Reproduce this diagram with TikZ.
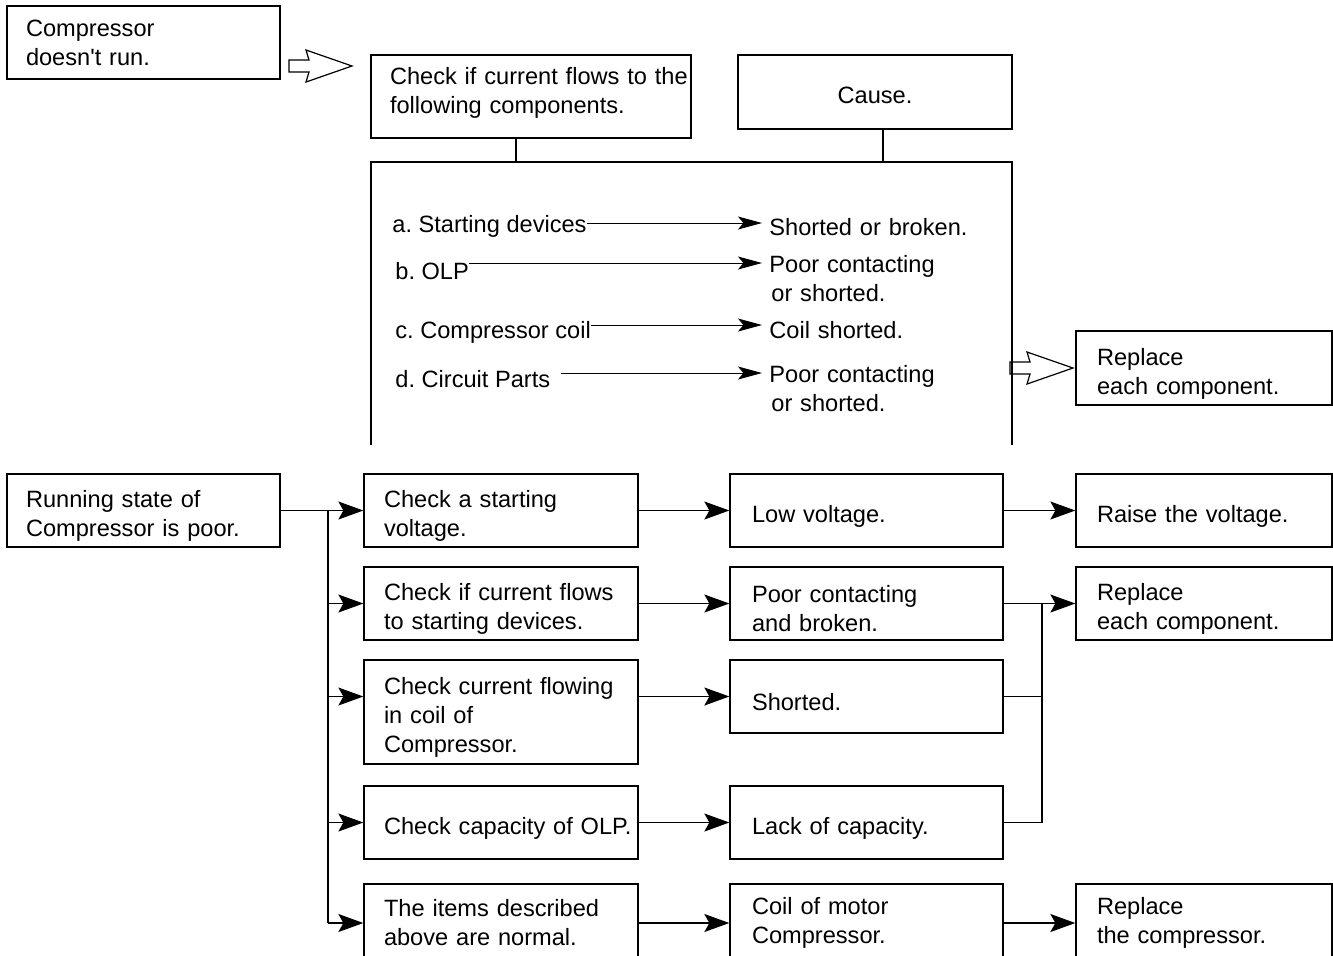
\documentclass[tikz,border=0pt]{standalone}
\usepackage{fontspec}
\setmainfont{Liberation Sans}
\frenchspacing
\usetikzlibrary{arrows.meta}

\begin{document}
\begin{tikzpicture}[x=0.5pt,y=-0.5pt,
  font=\fontsize{11.8pt}{14.5pt}\selectfont,
  box/.style={draw,line width=0.65pt,align=left,minimum height=36.5pt,inner ysep=0pt,text height=14pt},
  heavy/.style={draw,line width=1pt},
  lead/.style={box,minimum width=136.5pt,inner xsep=9.5pt,text width=117.5pt},
  colA/.style={box,minimum width=137pt,inner xsep=10pt,text width=117pt},
  colB/.style={box,minimum width=136.5pt,inner xsep=11pt,text width=114.5pt},
  colC/.style={box,minimum width=128pt,inner xsep=10.5pt,text width=107pt},
  item/.style={inner sep=0pt,anchor=base west},
  cause/.style={inner xsep=3.5pt,inner ysep=0pt,anchor=base west,text width=110pt,align=left},
  link/.style={line width=0.65pt},
  arr/.style={link,-{Stealth[length=12.5pt,width=9pt,inset=2.5pt]}},
  fine/.style={line width=0.5pt,-{Stealth[length=12pt,width=6.5pt,inset=2.7pt]}}]
\clip (0,0) rectangle (1333,955);

\node[lead,text height={}] (noRun) at (143.5,42.5) {Compressor\\doesn\textquotesingle t run.};
\node[box,heavy,minimum width=160pt,minimum height=41.5pt,inner xsep=9.5pt,text width=141pt,text height=4.7pt] (checkList) at (531,96.5) {\mbox{Check if current flows to the}\\following components.};
\node[box,heavy,minimum width=137pt,minimum height=37pt,align=center,text height=11.7pt] (cause) at (875,92) {Cause.};

\draw[line width=1pt] (371,445) -- (371,162) coordinate (frameW) -- (1012,162) coordinate (frameE) -- (1012,445);
\draw[link] (516,0 |- checkList.south) -- (516,0 |- frameW);
\draw[link] (883,0 |- cause.south) -- (883,0 |- frameE);

\node[item] (itemA) at (392,232) {a. Starting devices};
\node[item] (itemB) at (395,279) {b. OLP};
\node[item] (itemC) at (395,338) {c. Compressor coil};
\node[item] (itemD) at (395,387) {d. Circuit Parts};
\node[cause] (causeA) at (762,235) {Shorted or broken.};
\node[cause] (causeB) at (762,272) {Poor contacting\\\hspace*{1pt}or shorted.};
\node[cause] (causeC) at (762,338) {Coil shorted.};
\node[cause] (causeD) at (762,382) {Poor contacting\\\hspace*{1pt}or shorted.};
\foreach \i/\dx/\dy in {A/0/4.5,B/0/8,C/0/6.5,D/5/7}
  \draw[fine] ([xshift=\dx pt,yshift=\dy pt]item\i.base east) coordinate (from\i) -- (from\i -| cause\i.west);

\node[colC,minimum height=37pt] (replaceAll) at (1204,368) {Replace\\each component.};

\coordinate (goCheck) at (289,66);
\coordinate (goReplace) at (1010,368);
\foreach \t in {goCheck,goReplace}
  \draw[line width=0.6pt] (\t) ++(0,-6) -- ++(20,0) -- ++(-3,-10) -- ++(46,16) -- ++(-46,16) -- ++(3,-10) -- ++(-20,0) -- cycle;

\node[lead] (runPoor) at (143.5,510.5) {Running state of\\Compressor is poor.};

\node[colA] (chkVolt) at (501,510.5) {Check a starting\\voltage.};
\node[colA] (chkFlow) at (501,603.5) {Check if current flows\\to starting devices.};
\node[colA,minimum height=52pt] (chkCoil) at (501,712) {Check current flowing\\in coil of\\Compressor.};
\node[colA] (chkOLP) at (501,822.5) {\mbox{Check capacity of OLP.}};
\node[colA,minimum height=39pt,text height={}] (chkNormal) at (501,923) {The items described\\above are normal.};

\node[colB] (lowVolt) at (866.5,510.5) {Low voltage.};
\node[colB] (poorCont) at (866.5,603.5) {Poor contacting\\and broken.};
\node[colB] (shorted) at (866.5,696.5) {Shorted.};
\node[colB] (lackCap) at (866.5,822.5) {Lack of capacity.};
\node[colB,minimum height=39pt,text height={}] (coilMotor) at (866.5,923) {Coil of motor\\Compressor.};

\node[colC] (raiseVolt) at (1204,510.5) {Raise the voltage.};
\node[colC] (replEach) at (1204,603.5) {Replace\\each component.};
\node[colC,minimum height=39pt,text height={}] (replComp) at (1204,923) {Replace\\the compressor.};

\coordinate (trunk) at (328,510.5);
\coordinate (join) at (1042,603.5);
\draw[link] (runPoor.east) -- (trunk) -- (trunk |- chkNormal.west);
\foreach \n in {chkVolt,chkFlow,chkOLP,chkNormal}
  \draw[arr] (trunk |- \n.west) -- (\n.west);
\draw[arr] (trunk |- shorted.west) -- (shorted.west -| chkCoil.west);
\foreach \a/\b in {chkVolt/lowVolt,chkFlow/poorCont,chkOLP/lackCap,chkNormal/coilMotor,lowVolt/raiseVolt,coilMotor/replComp}
  \draw[arr] (\a.east) -- (\b.west);
\draw[arr] (shorted.west -| chkCoil.east) -- (shorted.west);
\draw[link] (poorCont.east) -- (join);
\draw[link] (shorted.east) -| (join);
\draw[link] (lackCap.east) -| (join);
\draw[arr] (join) -- (replEach.west);
\end{tikzpicture}
\end{document}
